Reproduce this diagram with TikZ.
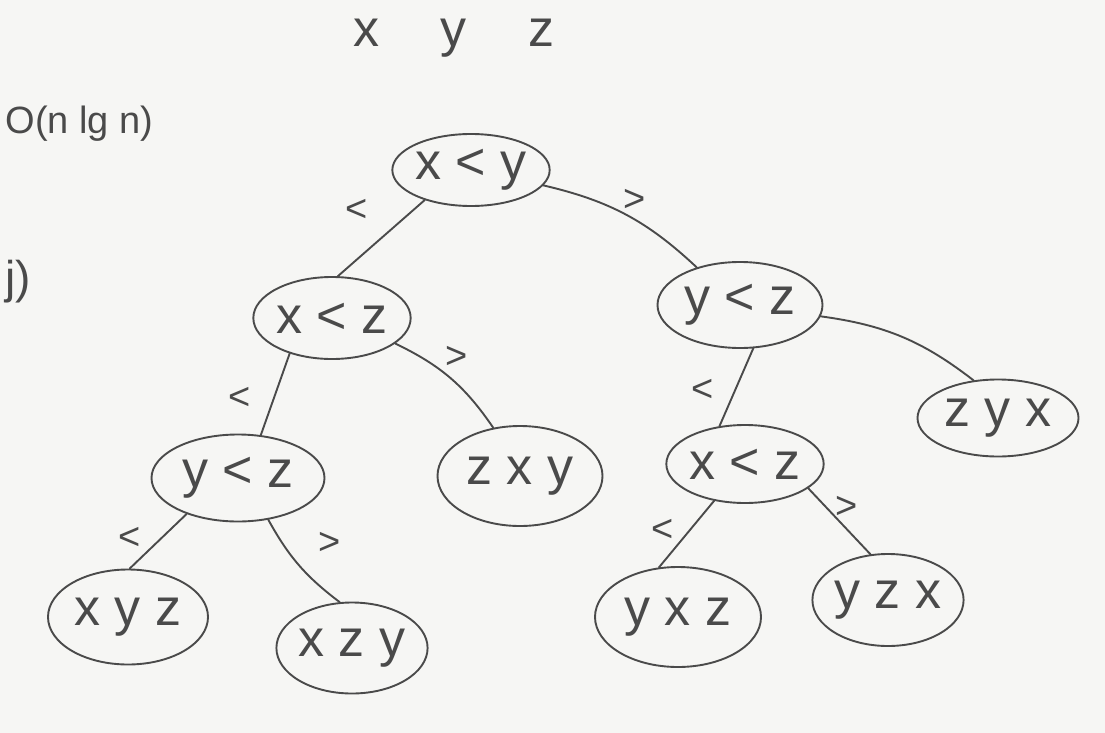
\documentclass[tikz,border=0pt]{standalone}
\usepackage{fontspec}
\setmainfont{Liberation Sans}
\usetikzlibrary{shapes.geometric}
\definecolor{ink}{HTML}{4A4A4A}
\definecolor{board}{HTML}{F6F6F4}
\tikzset{
  st/.style={ellipse, draw=ink, line width=1.9pt, text=ink, inner sep=0pt,
    font=\fontsize{52}{58}\selectfont},
  edge/.style={draw=ink, line width=1.9pt, line cap=round},
  lab/.style={text=ink, font=\fontsize{38}{42}\selectfont},
  hw/.style={text=ink, font=\fontsize{52}{58}\selectfont},
}
\begin{document}
\begin{tikzpicture}[x=1pt,y=-1pt]
\fill[board] (0,0) rectangle (1105,733);
\useasboundingbox (0,0) rectangle (1105,733);

% free text
\node[hw] (title) at (454,38) {x\hspace{62pt}y\hspace{62pt}z};
\node[hw, anchor=west, font=\fontsize{38}{42}\selectfont] (cost) at (2,124) {O(n lg n)};
\node[hw, anchor=west, font=\fontsize{46}{50}\selectfont] (jpar) at (2,282) {j)};

% nodes
\node[st, minimum width=150pt, minimum height=72pt] (root) at (471,170) {x~<~y};
\node[st, minimum width=147pt, minimum height=82pt] (xz) at (332,318) {x~<~z};
\node[st, minimum width=165pt, minimum height=86pt] (yzR) at (740,305) {y~<~z};
\node[st, minimum width=173pt, minimum height=87pt] (yzL) at (238,478) {y~<~z};
\node[st, minimum width=165pt, minimum height=100pt] (zxy) at (520,476) {z~x~y};
\node[st, minimum width=142pt, minimum height=78pt] (xz2) at (745,464) {x~<~z};
\node[st, minimum width=161pt, minimum height=77pt] (zyx) at (998,418) {z~y~x};
\node[st, minimum width=160pt, minimum height=95pt] (xyz) at (128,617) {x~y~z};
\node[st, minimum width=150pt, minimum height=91pt] (xzy) at (352,648) {x~z~y};
\node[st, minimum width=166pt, minimum height=100pt] (yxz) at (678,617) {y~x~z};
\node[st, minimum width=146pt, minimum height=92pt] (yzx) at (888,600) {y~z~x};

% connectors
\draw[edge] (root.213) -- (xz.82);
\draw[edge] (root.-12) to[bend left=15] (yzR.139);
\draw[edge] (xz.220) -- (yzL.62);
\draw[edge] (xz.-22) to[bend left=15] (zxy.119);
\draw[edge] (yzR.-73) -- (xz2.124);
\draw[edge] (yzR.-8) to[bend left=15] (zyx.123);
\draw[edge] (yzL.215) -- (xyz.88);
\draw[edge] (yzL.-54) to[bend right=12] (xzy.105);
\draw[edge] (xz2.230) -- (yxz.111);
\draw[edge] (xz2.-21) -- (yzx.111);

% edge labels
\node[lab] (l1) at (357,210) {<};
\node[lab] (l2) at (635,200) {>};
\node[lab] (l3) at (240,398) {<};
\node[lab] (l4) at (457,357) {>};
\node[lab] (l5) at (703,390) {<};
\node[lab] (l6) at (130,538) {<};
\node[lab] (l7) at (330,543) {>};
\node[lab] (l8) at (663,530) {<};
\node[lab] (l9) at (847,507) {>};
\end{tikzpicture}
\end{document}
